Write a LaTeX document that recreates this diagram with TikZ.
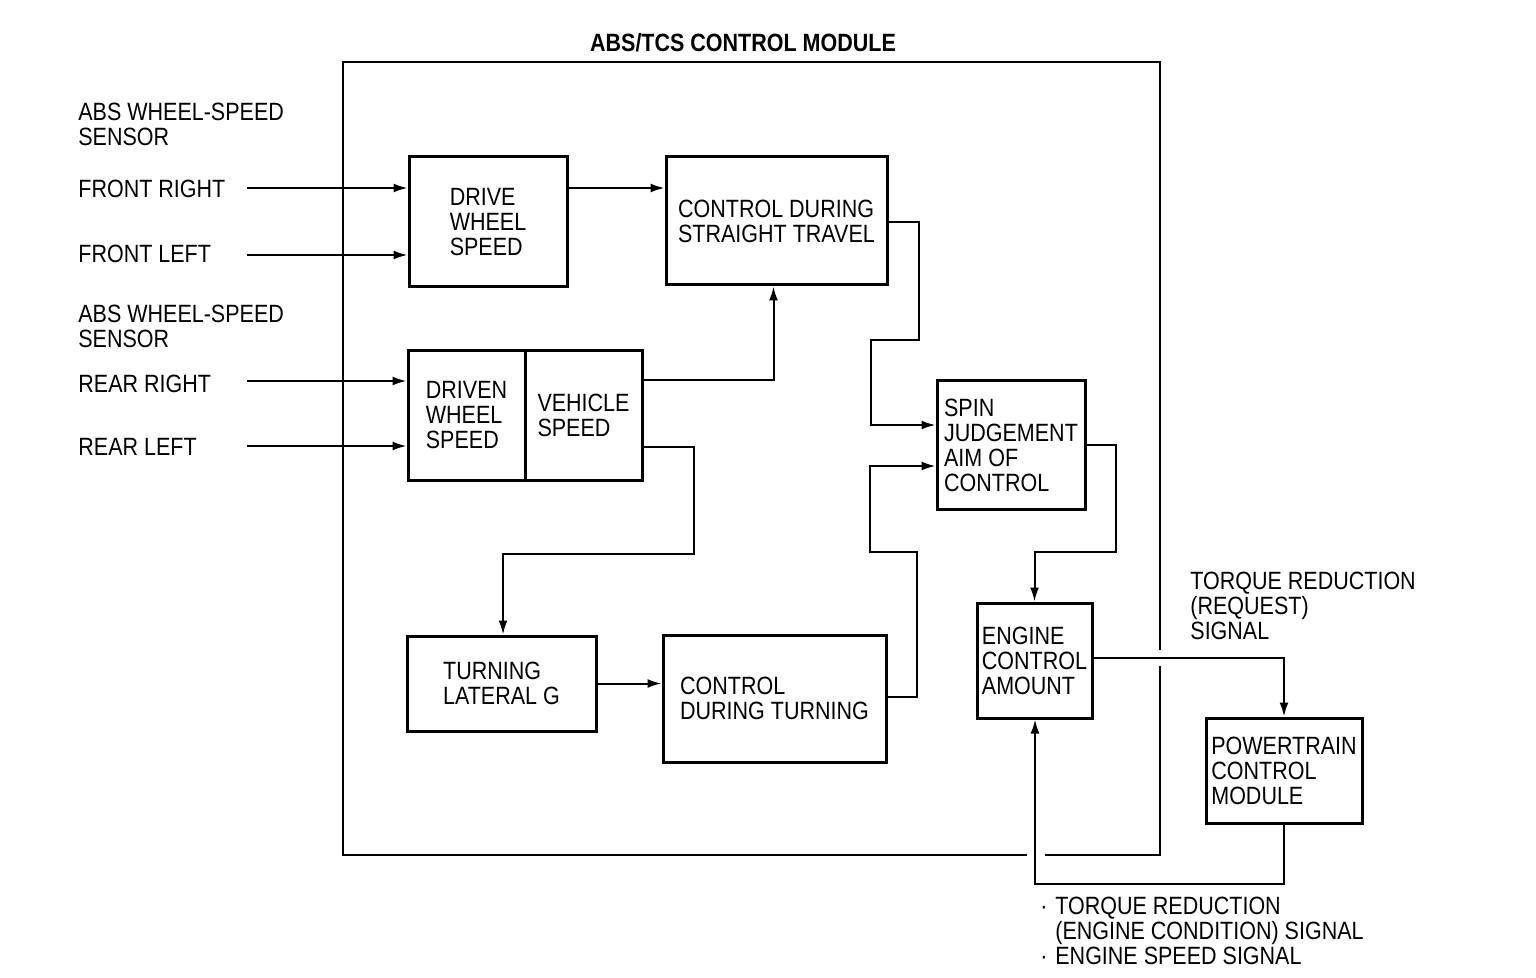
\documentclass[tikz,border=0pt]{standalone}
\usepackage{fontspec}
\setmainfont{Liberation Sans}[FakeStretch=0.86]
\usetikzlibrary{arrows.meta,calc}
\newcommand\mybul{\makebox[7.5pt][l]{·}}
\begin{document}
\begin{tikzpicture}[x=0.5pt,y=-0.5pt,
  every node/.style={font=\fontsize{12.5}{12.5}\selectfont, inner sep=0pt},
  blk/.style={draw, line width=1.5pt, align=left},
  lbl/.style={align=left, anchor=west},
  conn/.style={line width=1pt},
  arr/.style={conn, -{Latex[length=7pt,width=4.5pt]}},
  frame/.style={line width=1.3pt}]
\useasboundingbox (0,0) rectangle (1536,978);

% title and outer module frame
\node[font=\fontsize{12.5}{12.5}\selectfont\bfseries] (title) at (743,43) {ABS/TCS CONTROL MODULE};
\draw[frame] (1160,650) -- (1160,62) -- (343,62) -- (343,855) -- (1027,855);
\draw[frame] (1045,855) -- (1160,855) -- (1160,666);

% left labels
\node[lbl] (s1) at (78,124.5) {ABS WHEEL-SPEED\\SENSOR};
\node[lbl] (lfr) at (78,189) {FRONT RIGHT};
\node[lbl] (lfl) at (78,254) {FRONT LEFT};
\node[lbl] (s2) at (78,326.5) {ABS WHEEL-SPEED\\SENSOR};
\node[lbl] (lrr) at (78,384) {REAR RIGHT};
\node[lbl] (lrl) at (78,447) {REAR LEFT};

% blocks
\node[blk, minimum width=79pt, minimum height=65pt] (drive) at (488,222) {DRIVE\\WHEEL\\SPEED};
\node[blk, minimum width=110.5pt, minimum height=64pt] (cst) at (776.5,221) {CONTROL DURING\\STRAIGHT TRAVEL};
\node[blk, minimum width=58.5pt, minimum height=64.5pt] (dr) at (466.5,415.5) {DRIVEN\\WHEEL\\SPEED};
\node[blk, minimum width=58.5pt, minimum height=64.5pt] (vs) at (583.5,415.5) {VEHICLE\\SPEED};
\node[blk, minimum width=94.5pt, minimum height=47.5pt] (turn) at (501.5,683.5) {TURNING\\LATERAL G};
\node[blk, minimum width=111.5pt, minimum height=63.5pt] (ctu) at (774.5,698.5) {CONTROL\\DURING TURNING};
\node[blk, minimum width=74pt, minimum height=64pt] (spin) at (1011,445) {SPIN\\JUDGEMENT\\AIM OF\\CONTROL};
\node[blk, minimum width=57.5pt, minimum height=57.5pt] (eng) at (1034.5,660.5) {ENGINE\\CONTROL\\AMOUNT};
\node[blk, minimum width=78pt, minimum height=52.5pt] (pcm) at (1284,770.5) {POWERTRAIN\\CONTROL\\MODULE};

% right / bottom labels
\node[lbl] (treq) at (1190,606) {TORQUE REDUCTION\\(REQUEST)\\SIGNAL};
\node[lbl] (tcond) at (1040,931) {\mybul TORQUE REDUCTION\\\hphantom{\mybul}(ENGINE CONDITION) SIGNAL\\\mybul ENGINE SPEED SIGNAL};

% inputs
\coordinate (ifr) at (247,188);
\coordinate (ifl) at (247,255);
\coordinate (irr) at (247,381);
\coordinate (irl) at (247,446);
\draw[arr] (ifr) -- (ifr -| drive.west);
\draw[arr] (ifl) -- (ifl -| drive.west);
\draw[arr] (irr) -- (irr -| dr.west);
\draw[arr] (irl) -- (irl -| dr.west);

% internal connectors
\coordinate (d1) at ($(drive.east)+(0,-34)$);
\draw[arr] (d1) -- (d1 -| cst.west);

\coordinate (v1) at ($(vs.east)+(0,-35)$);
\draw[arr] (v1) -| ($(cst.south)+(-3,0)$);

\coordinate (v2) at ($(vs.east)+(0,31)$);
\coordinate (v3) at (694,554);
\draw[arr] (v2) -| (v3) -| ($(turn.north)+(1.5,0)$);

\draw[arr] (turn.east) -- (turn.east -| ctu.west);

\coordinate (c1) at (919,340);
\coordinate (c2) at (871,425);
\draw[arr] ($(cst.east)+(0,1)$) -| (c1) -| (c2) -- ($(spin.west)+(0,-20)$);

\coordinate (t1) at (917,552);
\coordinate (t2) at (870,466);
\draw[arr] ($(ctu.east)+(0,-1.5)$) -| (t1) -| (t2) -- ($(spin.west)+(0,21)$);

\coordinate (p1) at (1116,552);
\draw[arr] (spin.east) -| (p1) -| (eng.north);

\draw[arr] ($(eng.east)+(0,-2.5)$) -| (pcm.north);

\coordinate (q1) at (1035,884);
\draw[arr] (pcm.south) |- (q1) -- (q1 |- eng.south);
\end{tikzpicture}
\end{document}
